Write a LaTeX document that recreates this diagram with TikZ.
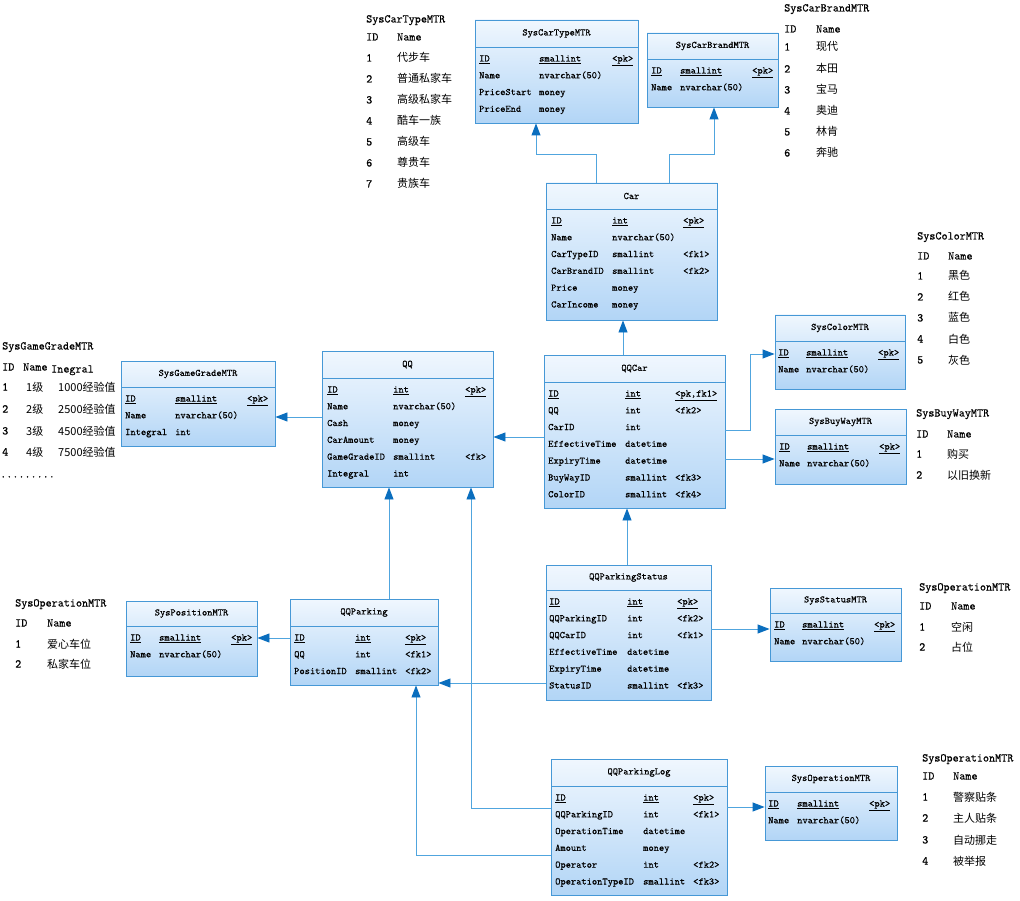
\documentclass[tikz,border=0pt]{standalone}
\usepackage{fontspec}
\newfontfamily\cjk{Noto Sans CJK SC}
\newfontfamily\boxtt{Latin Modern Mono}[FakeBold=0.5]
\usetikzlibrary{arrows.meta,fit}
\definecolor{bline}{RGB}{70,152,214}
\definecolor{btop}{RGB}{240,247,254}
\definecolor{bbot}{RGB}{178,213,246}
\definecolor{cline}{RGB}{80,165,222}
\definecolor{ctip}{RGB}{10,110,190}
\newcounter{tn}
\tikzset{
  entbox/.style={draw=bline, line width=0.9pt, top color=btop, bottom color=bbot, inner sep=0pt, rectangle},
  hdr/.style={font=\fontsize{10}{12}\selectfont\boxtt, anchor=center, inner sep=0pt},
  fld/.style={font=\fontsize{10}{12}\selectfont\boxtt, anchor=west, inner sep=0pt, text height=6.5pt, text depth=1.5pt},
  tbl/.style={font=\fontsize{11.8}{14}\selectfont\boxtt, anchor=west, inner sep=0pt, text height=7pt, text depth=2pt},
  zh/.style={font=\fontsize{11}{13}\selectfont\cjk, anchor=west, inner sep=0pt, text height=8pt, text depth=2pt},
  conn/.style={draw=cline, line width=0.9pt, -{Triangle[length=12pt,width=9pt,color=ctip]}},
}
% entity: name, x1, y1, x2, y2, header bottom, title
\newcommand{\entity}[7]{%
  \node[entbox, fit={(#2,#3) (#4,#5)}] (#1) {};
  \draw[bline, line width=0.9pt] (#2,#6) -- (#4,#6);
  \node[hdr] (#1-t) at ({(#2+#4)/2},{(#3+#6)/2}) {#7};
}
\newcommand{\setent}[4]{\def\hb{#1}\def\ca{#2}\def\cb{#3}\def\cc{#4}}
\newcommand{\frow}[4]{%
  \stepcounter{tn}%
  \node[fld] (f\arabic{tn}a) at (\ca,{\hb+12+16.8*(#1-1)}) {#2};
  \node[fld] (f\arabic{tn}b) at (\cb,{\hb+12+16.8*(#1-1)}) {#3};
  \node[fld] (f\arabic{tn}c) at (\cc,{\hb+12+16.8*(#1-1)}) {#4};
}
\newcommand{\tx}[3]{\stepcounter{tn}\node[tbl] (x\arabic{tn}) at (#1,#2) {#3};}
\newcommand{\zx}[3]{\stepcounter{tn}\node[zh] (z\arabic{tn}) at (#1,#2) {#3};}
\newcommand{\pkrow}[3]{\frow{1}{\underline{ID}}{\underline{#1}}{\underline{#2}}#3}
\begin{document}
\begin{tikzpicture}[x=1pt,y=-1pt]
\useasboundingbox (0,0) rectangle (1020,901);
\fill[white] (0,0) rectangle (1020,901);

% ---------- entities ----------
\entity{cartype}{475}{20}{638}{123}{47}{SysCarTypeMTR}
\setent{47}{479}{539}{612}
\pkrow{smallint}{<pk>}{}
\frow{2}{Name}{nvarchar(50)}{}
\frow{3}{PriceStart}{money}{}
\frow{4}{PriceEnd}{money}{}

\entity{brand}{647}{33}{778}{107}{59}{SysCarBrandMTR}
\setent{59}{651}{680}{752}
\pkrow{smallint}{<pk>}{}
\frow{2}{Name}{nvarchar(50)}{}

\entity{car}{546}{183}{717}{320}{209}{Car}
\setent{209}{551}{612}{683}
\pkrow{int}{<pk>}{}
\frow{2}{Name}{nvarchar(50)}{}
\frow{3}{CarTypeID}{smallint}{<fk1>}
\frow{4}{CarBrandID}{smallint}{<fk2>}
\frow{5}{Price}{money}{}
\frow{6}{CarIncome}{money}{}

\entity{qq}{322}{351}{493}{487}{378}{QQ}
\setent{378}{327}{393}{465}
\pkrow{int}{<pk>}{}
\frow{2}{Name}{nvarchar(50)}{}
\frow{3}{Cash}{money}{}
\frow{4}{CarAmount}{money}{}
\frow{5}{GameGradeID}{smallint}{<fk>}
\frow{6}{Integral}{int}{}

\entity{qqcar}{544}{355}{725}{508}{382}{QQCar}
\setent{382}{548}{625}{675}
\pkrow{int}{<pk,fk1>}{}
\frow{2}{QQ}{int}{<fk2>}
\frow{3}{CarID}{int}{}
\frow{4}{EffectiveTime}{datetime}{}
\frow{5}{ExpiryTime}{datetime}{}
\frow{6}{BuyWayID}{smallint}{<fk3>}
\frow{7}{ColorID}{smallint}{<fk4>}

\entity{grade}{121}{361}{275}{446}{387}{SysGameGradeMTR}
\setent{387}{125}{175}{247}
\pkrow{smallint}{<pk>}{}
\frow{2}{Name}{nvarchar(50)}{}
\frow{3}{Integral}{int}{}

\entity{color}{775}{315}{905}{389}{341}{SysColorMTR}
\setent{341}{778}{806}{878}
\pkrow{smallint}{<pk>}{}
\frow{2}{Name}{nvarchar(50)}{}

\entity{buyway}{775}{409}{906}{484}{435}{SysBuyWayMTR}
\setent{435}{779}{807}{879}
\pkrow{smallint}{<pk>}{}
\frow{2}{Name}{nvarchar(50)}{}

\entity{position}{126}{601}{257}{676}{626}{SysPositionMTR}
\setent{626}{130}{159}{231}
\pkrow{smallint}{<pk>}{}
\frow{2}{Name}{nvarchar(50)}{}

\entity{qqparking}{290}{599}{438}{685}{626}{QQParking}
\setent{626}{294}{355}{405}
\pkrow{int}{<pk>}{}
\frow{2}{QQ}{int}{<fk1>}
\frow{3}{PositionID}{smallint}{<fk2>}

\entity{qqps}{546}{565}{711}{700}{590}{QQParkingStatus}
\setent{590}{549}{627}{677}
\pkrow{int}{<pk>}{}
\frow{2}{QQParkingID}{int}{<fk2>}
\frow{3}{QQCarID}{int}{<fk1>}
\frow{4}{EffectiveTime}{datetime}{}
\frow{5}{ExpiryTime}{datetime}{}
\frow{6}{StatusID}{smallint}{<fk3>}

\entity{status}{770}{588}{901}{661}{613}{SysStatusMTR}
\setent{613}{774}{802}{874}
\pkrow{smallint}{<pk>}{}
\frow{2}{Name}{nvarchar(50)}{}

\entity{qqlog}{551}{759}{727}{895}{786}{QQParkingLog}
\setent{786}{555}{643}{693}
\pkrow{int}{<pk>}{}
\frow{2}{QQParkingID}{int}{<fk1>}
\frow{3}{OperationTime}{datetime}{}
\frow{4}{Amount}{money}{}
\frow{5}{Operator}{int}{<fk2>}
\frow{6}{OperationTypeID}{smallint}{<fk3>}

\entity{operation}{765}{766}{897}{840}{792}{SysOperationMTR}
\setent{792}{768}{797}{869}
\pkrow{smallint}{<pk>}{}
\frow{2}{Name}{nvarchar(50)}{}

% ---------- connectors ----------
\draw[conn] (car.north -| 596,0) |- (536,154) -- (cartype.south -| 536,0);
\draw[conn] (car.north -| 669,0) |- (714,154) -- (brand.south -| 714,0);
\draw[conn] (qqcar.north -| 623,0) -- (car.south -| 623,0);
\draw[conn] (qq.west |- 0,417) -- (grade.east |- 0,417);
\draw[conn] (qqcar.west |- 0,437) -- (qq.east |- 0,437);
\draw[conn] (qqcar.east |- 0,430) -| (750,354) -- (color.west |- 0,354);
\draw[conn] (qqcar.east |- 0,459) -- (buyway.west |- 0,459);
\draw[conn] (qqps.north -| 627,0) -- (qqcar.south -| 627,0);
\draw[conn] (qqps.east |- 0,629) -- (status.west |- 0,629);
\draw[conn] (qqps.west |- 0,683) -- (qqparking.east |- 0,683);
\draw[conn] (qqparking.west |- 0,638) -- (position.east |- 0,638);
\draw[conn] (qqparking.north -| 389,0) -- (qq.south -| 389,0);
\draw[conn] (qqlog.west |- 0,808) -| (qq.south -| 471,0);
\draw[conn] (qqlog.west |- 0,855) -| (qqparking.south -| 416,0);
\draw[conn] (qqlog.east |- 0,807) -- (operation.west |- 0,807);

% ---------- lookup tables ----------
% SysCarTypeMTR
\tx{366}{20}{SysCarTypeMTR}
\tx{366}{38}{ID}\tx{397}{38}{Name}
\tx{366}{59}{1}\zx{397}{59}{代步车}
\tx{366}{80}{2}\zx{397}{80}{普通私家车}
\tx{366}{101}{3}\zx{397}{101}{高级私家车}
\tx{366}{122}{4}\zx{397}{122}{酷车一族}
\tx{366}{143}{5}\zx{397}{143}{高级车}
\tx{366}{164}{6}\zx{397}{164}{尊贵车}
\tx{366}{185}{7}\zx{397}{185}{贵族车}

% SysCarBrandMTR
\tx{784}{9}{SysCarBrandMTR}
\tx{784}{30}{ID}\tx{816}{30}{Name}
\tx{784}{48}{1}\zx{816}{48}{现代}
\tx{784}{70}{2}\zx{816}{70}{本田}
\tx{784}{91}{3}\zx{816}{91}{宝马}
\tx{784}{112}{4}\zx{816}{112}{奥迪}
\tx{784}{133}{5}\zx{816}{133}{林肯}
\tx{784}{154}{6}\zx{816}{154}{奔驰}

% SysColorMTR
\tx{917}{237}{SysColorMTR}
\tx{917}{257}{ID}\tx{948}{257}{Name}
\tx{917}{277}{1}\zx{948}{277}{黑色}
\tx{917}{298}{2}\zx{948}{298}{红色}
\tx{917}{319}{3}\zx{948}{319}{蓝色}
\tx{917}{340}{4}\zx{948}{340}{白色}
\tx{917}{361}{5}\zx{948}{361}{灰色}

% SysBuyWayMTR
\tx{916}{414}{SysBuyWayMTR}
\tx{916}{435}{ID}\tx{947}{435}{Name}
\tx{916}{455}{1}\zx{947}{455}{购买}
\tx{916}{476}{2}\zx{947}{476}{以旧换新}

% SysGameGradeMTR
\tx{2}{347}{SysGameGradeMTR}
\tx{2}{368}{ID}\tx{23}{368}{Name}\tx{51}{370}{Inegral}
\tx{2}{388}{1}\zx{26}{388}{1级}\zx{58}{388}{1000经验值}
\tx{2}{410}{2}\zx{26}{410}{2级}\zx{58}{410}{2500经验值}
\tx{2}{432}{3}\zx{26}{432}{3级}\zx{58}{432}{4500经验值}
\tx{2}{453}{4}\zx{26}{453}{4级}\zx{58}{453}{7500经验值}
\tx{0}{475}{.........}

% SysOperationMTR (position)
\tx{15}{604}{SysOperationMTR}
\tx{15}{624}{ID}\tx{47}{624}{Name}
\tx{15}{645}{1}\zx{47}{645}{爱心车位}
\tx{15}{665}{2}\zx{47}{665}{私家车位}

% SysOperationMTR (status)
\tx{919}{588}{SysOperationMTR}
\tx{919}{607}{ID}\tx{951}{607}{Name}
\tx{919}{628}{1}\zx{951}{628}{空闲}
\tx{919}{648}{2}\zx{951}{648}{占位}

% SysOperationMTR (operation)
\tx{922}{759}{SysOperationMTR}
\tx{922}{777}{ID}\tx{953}{777}{Name}
\tx{922}{798}{1}\zx{953}{798}{警察贴条}
\tx{922}{819}{2}\zx{953}{819}{主人贴条}
\tx{922}{841}{3}\zx{953}{841}{自动挪走}
\tx{922}{862}{4}\zx{953}{862}{被举报}
\end{tikzpicture}
\end{document}
